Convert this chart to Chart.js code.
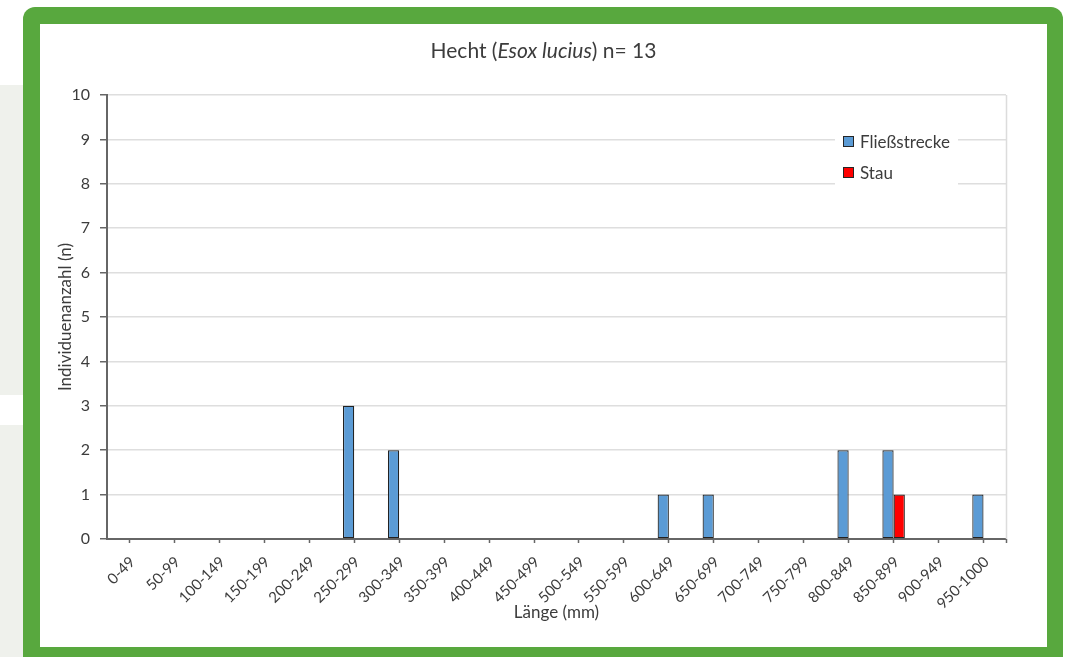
<!DOCTYPE html>
<html lang="de">
<head>
<meta charset="utf-8">
<title>Hecht (Esox lucius) – Längenverteilung</title>
<script src="https://cdn.jsdelivr.net/npm/chart.js@4.4.1/dist/chart.umd.min.js"></script>
<style>
  html, body { margin: 0; padding: 0; background: #ffffff; }
  body { width: 1069px; height: 657px; position: relative; overflow: hidden; font-family: Lato, "Open Sans", sans-serif; }
  .shade { position: absolute; left: 0; width: 23px; background: #eff1ec; }
  .shade.a { top: 85px; height: 310px; }
  .shade.b { top: 425px; height: 240px; }
  .frame {
    position: absolute; left: 23px; top: 7px; width: 1040px; height: 680px;
    background: #58a83e; border-radius: 12px;
  }
  .panel {
    position: absolute; left: 40px; top: 24px; width: 1007px; height: 623px;
    background: #ffffff;
  }
  #chart { position: absolute; left: 0; top: 0; width: 1007px; height: 623px; }
</style>
</head>
<body>
<div class="shade a"></div>
<div class="shade b"></div>
<div class="frame"></div>
<div class="panel"><canvas id="chart" width="1007" height="623"></canvas></div>
<script>
// Length classes (mm)
const lengthClasses = [
  '0-49', '50-99', '100-149', '150-199', '200-249', '250-299', '300-349',
  '350-399', '400-449', '450-499', '500-549', '550-599', '600-649', '650-699',
  '700-749', '750-799', '800-849', '850-899', '900-949', '950-1000'
];
// Number of individuals per length class
const fliessstrecke = [0, 0, 0, 0, 0, 3, 2, 0, 0, 0, 0, 0, 1, 1, 0, 0, 2, 2, 0, 1];
const stau          = [0, 0, 0, 0, 0, 0, 0, 0, 0, 0, 0, 0, 0, 0, 0, 0, 0, 1, 0, 0];
const yTicks = [0, 1, 2, 3, 4, 5, 6, 7, 8, 9, 10];

const TEXT = '#3c3c3c';
const AXIS = '#666666';
const FONT = 'Lato, "Open Sans", sans-serif';

// Title with the italic species name
const titlePlugin = {
  id: 'mixedTitle',
  afterDraw(chart) {
    const ctx = chart.ctx;
    const parts = [
      { t: 'Hecht (', f: '21px ' + FONT },
      { t: 'Esox lucius', f: 'italic 21px ' + FONT },
      { t: ') n= 13', f: '21px ' + FONT }
    ];
    ctx.save();
    ctx.fillStyle = TEXT;
    ctx.textBaseline = 'middle';
    let total = 0;
    parts.forEach(p => { ctx.font = p.f; p.w = ctx.measureText(p.t).width; total += p.w; });
    let x = chart.width / 2 - total / 2;
    parts.forEach(p => { ctx.font = p.f; ctx.fillText(p.t, x, 27); x += p.w; });
    ctx.restore();
  }
};

// Right border of the plot area and closing tick of the category axis
const frameLine = {
  id: 'frameLine',
  beforeDatasetsDraw(chart) {
    const { ctx, chartArea: a } = chart;
    ctx.save();
    ctx.strokeStyle = '#dcdcdc';
    ctx.lineWidth = 1.5;
    ctx.beginPath();
    ctx.moveTo(a.right + 0.5, a.top);
    ctx.lineTo(a.right + 0.5, a.bottom);
    ctx.stroke();
    ctx.strokeStyle = AXIS;
    ctx.beginPath();
    ctx.moveTo(a.right + 0.5, a.bottom);
    ctx.lineTo(a.right + 0.5, a.bottom + 4);
    ctx.stroke();
    ctx.restore();
  }
};

// Legend box inside the plot area
const boxLegend = {
  id: 'boxLegend',
  afterDraw(chart) {
    const ctx = chart.ctx;
    const bx = 795, by = 100, bw = 123, bh = 66;
    ctx.save();
    ctx.fillStyle = '#ffffff';
    ctx.fillRect(bx, by, bw, bh);
    ctx.font = '17px ' + FONT;
    ctx.textBaseline = 'middle';
    chart.data.datasets.forEach((ds, i) => {
      const cy = 118 + i * 31;
      ctx.fillStyle = ds.backgroundColor;
      ctx.fillRect(803.5, cy - 5.5, 10, 10);
      ctx.strokeStyle = '#262626';
      ctx.lineWidth = 1;
      ctx.strokeRect(803.5, cy - 5.5, 10, 10);
      ctx.fillStyle = TEXT;
      ctx.fillText(ds.label, 820, cy + 1);
    });
    ctx.restore();
  }
};

new Chart(document.getElementById('chart'), {
  type: 'bar',
  data: {
    labels: lengthClasses,
    datasets: [
      {
        label: 'Fließstrecke',
        data: fliessstrecke,
        backgroundColor: '#5b9bd5',
        borderColor: '#222222',
        borderWidth: 1.2,
        borderSkipped: false
      },
      {
        label: 'Stau',
        data: stau,
        backgroundColor: '#ff0000',
        borderColor: '#222222',
        borderWidth: 1.2,
        borderSkipped: false
      }
    ]
  },
  options: {
    responsive: false,
    animation: false,
    devicePixelRatio: 1,
    categoryPercentage: 0.5,
    barPercentage: 1.0,
    layout: { padding: { left: 0, top: 71, right: 41, bottom: 0 } },
    plugins: {
      legend: { display: false },
      title: { display: false },
      tooltip: { enabled: false }
    },
    scales: {
      x: {
        grid: {
          offset: false,
          drawOnChartArea: false,
          drawTicks: true,
          tickLength: 4,
          tickColor: AXIS,
          tickWidth: 1.5
        },
        border: { color: AXIS, width: 2 },
        ticks: {
          color: TEXT,
          font: { family: FONT, size: 15 },
          minRotation: 45,
          maxRotation: 45,
          autoSkip: false,
          padding: 10,
          labelOffset: 3
        },
        title: {
          display: true,
          text: 'Länge (mm)',
          color: TEXT,
          font: { family: FONT, size: 17 },
          padding: { top: 0, bottom: 24 }
        },
        afterFit(scale) { scale.height = 108; }
      },
      y: {
        min: 0,
        max: 10,
        afterBuildTicks(scale) { scale.ticks = yTicks.map(v => ({ value: v })); },
        grid: {
          color: '#dedede',
          tickColor: AXIS,
          tickLength: 7,
          lineWidth: 1.5,
          tickWidth: 1.5
        },
        border: { color: AXIS, width: 2 },
        ticks: {
          color: TEXT,
          font: { family: FONT, size: 16 },
          padding: 10
        },
        title: {
          display: true,
          text: 'Individuenanzahl (n)',
          color: TEXT,
          font: { family: FONT, size: 17 },
          padding: { top: 15, bottom: 0 }
        },
        afterFit(scale) { scale.width = 67; }
      }
    }
  },
  plugins: [titlePlugin, frameLine, boxLegend]
});
</script>
</body>
</html>
